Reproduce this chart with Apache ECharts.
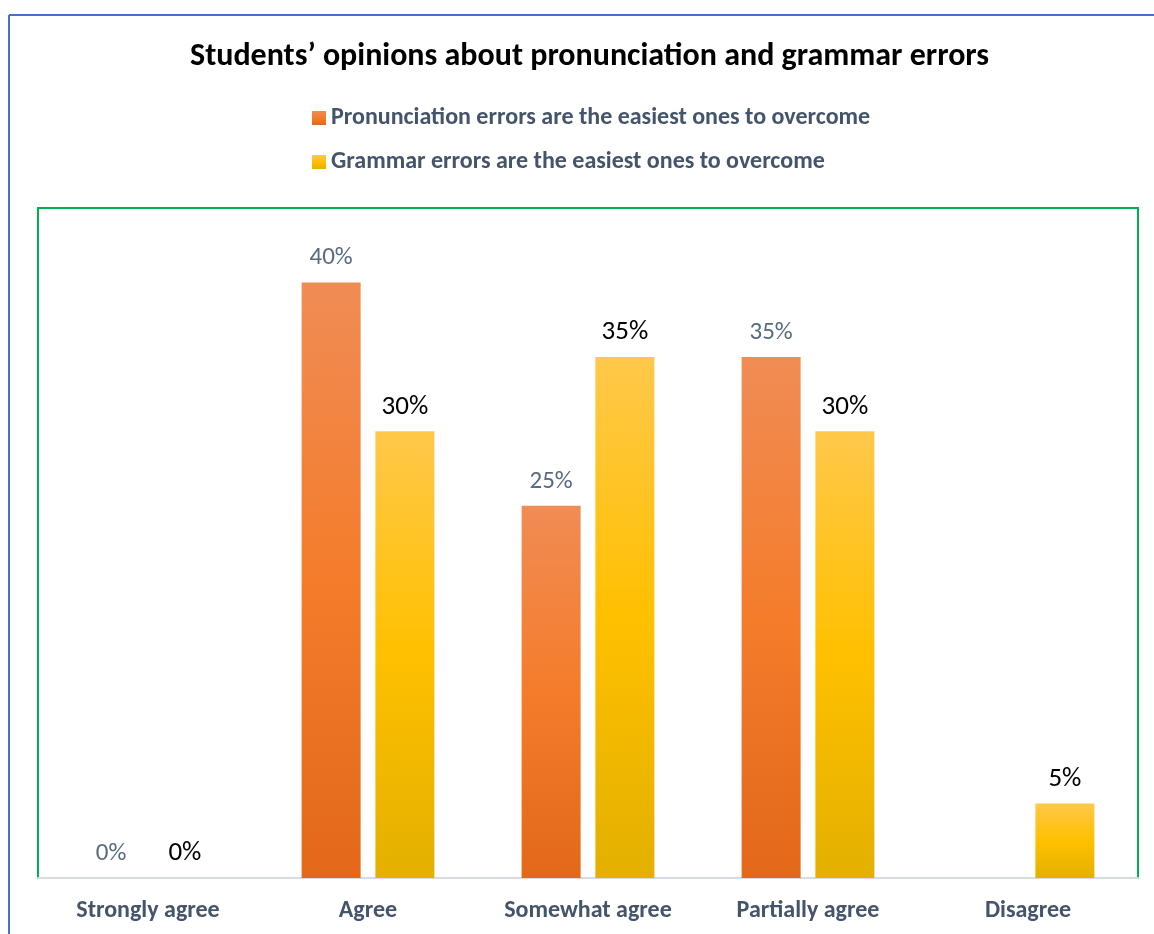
<!DOCTYPE html>
<html>
<head>
<meta charset="utf-8">
<script src="https://cdn.jsdelivr.net/npm/echarts@6/dist/echarts.min.js"></script>
<style>
  html, body { margin: 0; padding: 0; background: #ffffff; }
  #chart { width: 1154px; height: 934px; }
</style>
</head>
<body>
<div id="chart"></div>
<script>
// Survey answers (percent of students)
const categories = ['Strongly agree', 'Agree', 'Somewhat agree', 'Partially agree', 'Disagree'];
const pronunciationValues = [0, 40, 25, 35, null];
const grammarValues = [0, 30, 35, 30, 5];
const seriesNames = [
  'Pronunciation errors are the easiest ones to overcome',
  'Grammar errors are the easiest ones to overcome'
];
const titleText = 'Students\u2019 opinions about pronunciation and grammar errors';

const FONT = 'Carlito, Lato, "Liberation Sans", sans-serif';

function vGrad(top, mid, bottom) {
  return new echarts.graphic.LinearGradient(0, 0, 0, 1, [
    { offset: 0, color: top },
    { offset: 0.5, color: mid },
    { offset: 1, color: bottom }
  ]);
}

const chart = echarts.init(document.getElementById('chart'), null, { renderer: 'canvas' });

chart.setOption({
  backgroundColor: '#ffffff',
  animation: false,
  title: {
    text: titleText,
    left: 185,
    top: 36,
    textStyle: { fontFamily: FONT, fontSize: 32, fontWeight: 'bold', color: '#000000' }
  },
  legend: {
    orient: 'vertical',
    left: 307,
    top: 101,
    itemWidth: 14,
    itemHeight: 14,
    itemGap: 20,
    icon: 'rect',
    textStyle: { fontFamily: FONT, fontSize: 24, fontWeight: 'bold', color: '#44546A' },
    data: seriesNames
  },
  graphic: [
    // outer frame lines
    { type: 'line', shape: { x1: 9, y1: 15, x2: 1154, y2: 15 }, style: { stroke: '#4472C4', lineWidth: 2 } },
    { type: 'line', shape: { x1: 9, y1: 15, x2: 9, y2: 934 }, style: { stroke: '#4472C4', lineWidth: 2 } }
  ],
  grid: {
    left: 38,
    right: 16,
    top: 208,
    bottom: 56,
    show: true,
    borderColor: '#00B050',
    borderWidth: 2,
    backgroundColor: 'transparent'
  },
  xAxis: {
    type: 'category',
    data: categories,
    axisLine: { lineStyle: { color: '#D6DCE1', width: 2 } },
    axisTick: { show: false },
    axisLabel: {
      fontFamily: FONT, fontSize: 24, fontWeight: 'bold', color: '#44546A', margin: 21
    }
  },
  yAxis: {
    type: 'value',
    min: 0,
    max: 45,
    show: false,
    splitLine: { show: false }
  },
  series: [
    {
      name: seriesNames[0],
      type: 'bar',
      data: pronunciationValues,
      barWidth: 59,
      barGap: '25%',
      itemStyle: { color: vGrad('#F08C55', '#F47C2B', '#E3681A') },
      label: {
        show: true,
        position: 'top',
        distance: 12,
        formatter: p => p.value + '%',
        fontFamily: FONT, fontSize: 25, color: '#586A80'
      }
    },
    {
      name: seriesNames[1],
      type: 'bar',
      data: grammarValues,
      barWidth: 59,
      barGap: '25%',
      itemStyle: { color: vGrad('#FFC84A', '#FFC000', '#E3B000') },
      label: {
        show: true,
        position: 'top',
        distance: 11,
        formatter: p => p.value + '%',
        fontFamily: FONT, fontSize: 27, color: '#000000'
      }
    }
  ]
});
</script>
</body>
</html>
